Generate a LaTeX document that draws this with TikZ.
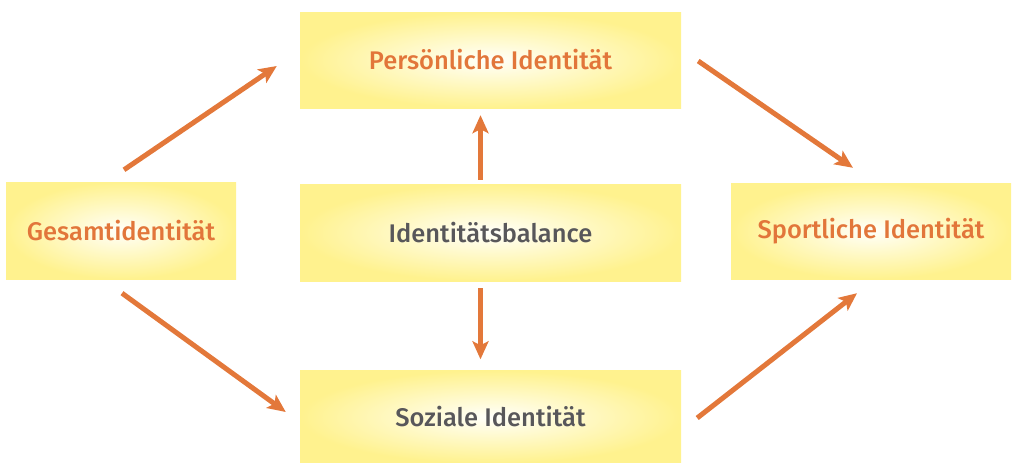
\documentclass[tikz,border=0pt]{standalone}
\usepackage{fontspec}
\setmainfont{Fira Sans}
\newfontfamily\labfont{Fira Sans Medium}
\usetikzlibrary{arrows.meta,calc}
\definecolor{boxyellow}{HTML}{FFF28E}
\definecolor{boxcenter}{HTML}{FFFFFA}
\definecolor{orangetxt}{HTML}{E2763A}
\definecolor{orangearr}{HTML}{E3783A}
\definecolor{graytxt}{HTML}{58575A}
\begin{document}
\begin{tikzpicture}[x=1pt,y=-1pt,
  box/.style={shade, inner color=boxcenter, outer color=boxyellow, draw=none,
    minimum width=#1, minimum height=96pt, inner sep=0pt,
    font=\labfont\fontsize{25.5}{30}\selectfont},
  box/.default=381pt,
  otxt/.style={text=orangetxt},
  gtxt/.style={text=graytxt},
  arr/.style={draw=orangearr, line width=5pt,
    -{Stealth[length=18pt,width=16pt,inset=4pt]}}]
\useasboundingbox (0,0) rectangle (1012,463);
\node[box, otxt, minimum height=96pt] (pers) at (490.5,60) {Persönliche Identität};
\node[box, gtxt, minimum height=97pt] (bal) at (490.5,232.5) {Identitätsbalance};
\node[box, gtxt, minimum height=93pt] (soz) at (490.5,417) {Soziale Identität};
\node[box=230pt, otxt, minimum height=97pt] (ges) at (121,230.5) {Gesamtidentität};
\node[box=280pt, otxt, minimum height=96pt] (sport) at (871,231) {Sportliche Identität};
\draw[arr] ($(ges.north)+(3,-12)$) -- ($(pers.west)+(-23,6)$);
\draw[arr] ($(pers.east)+(17,1)$) -- ($(sport.north)+(-18,-15)$);
\draw[arr] ($(ges.south)+(1,14)$) -- ($(soz.west)+(-14,-5)$);
\draw[arr] ($(soz.east)+(16,1)$) -- ($(sport.south)+(-14,14)$);
\draw[arr] ($(bal.north)+(-10,-4)$) -- ($(pers.south)+(-10,7)$);
\draw[arr] ($(bal.south)+(-10,7)$) -- ($(soz.north)+(-10,-11)$);
\end{tikzpicture}
\end{document}
